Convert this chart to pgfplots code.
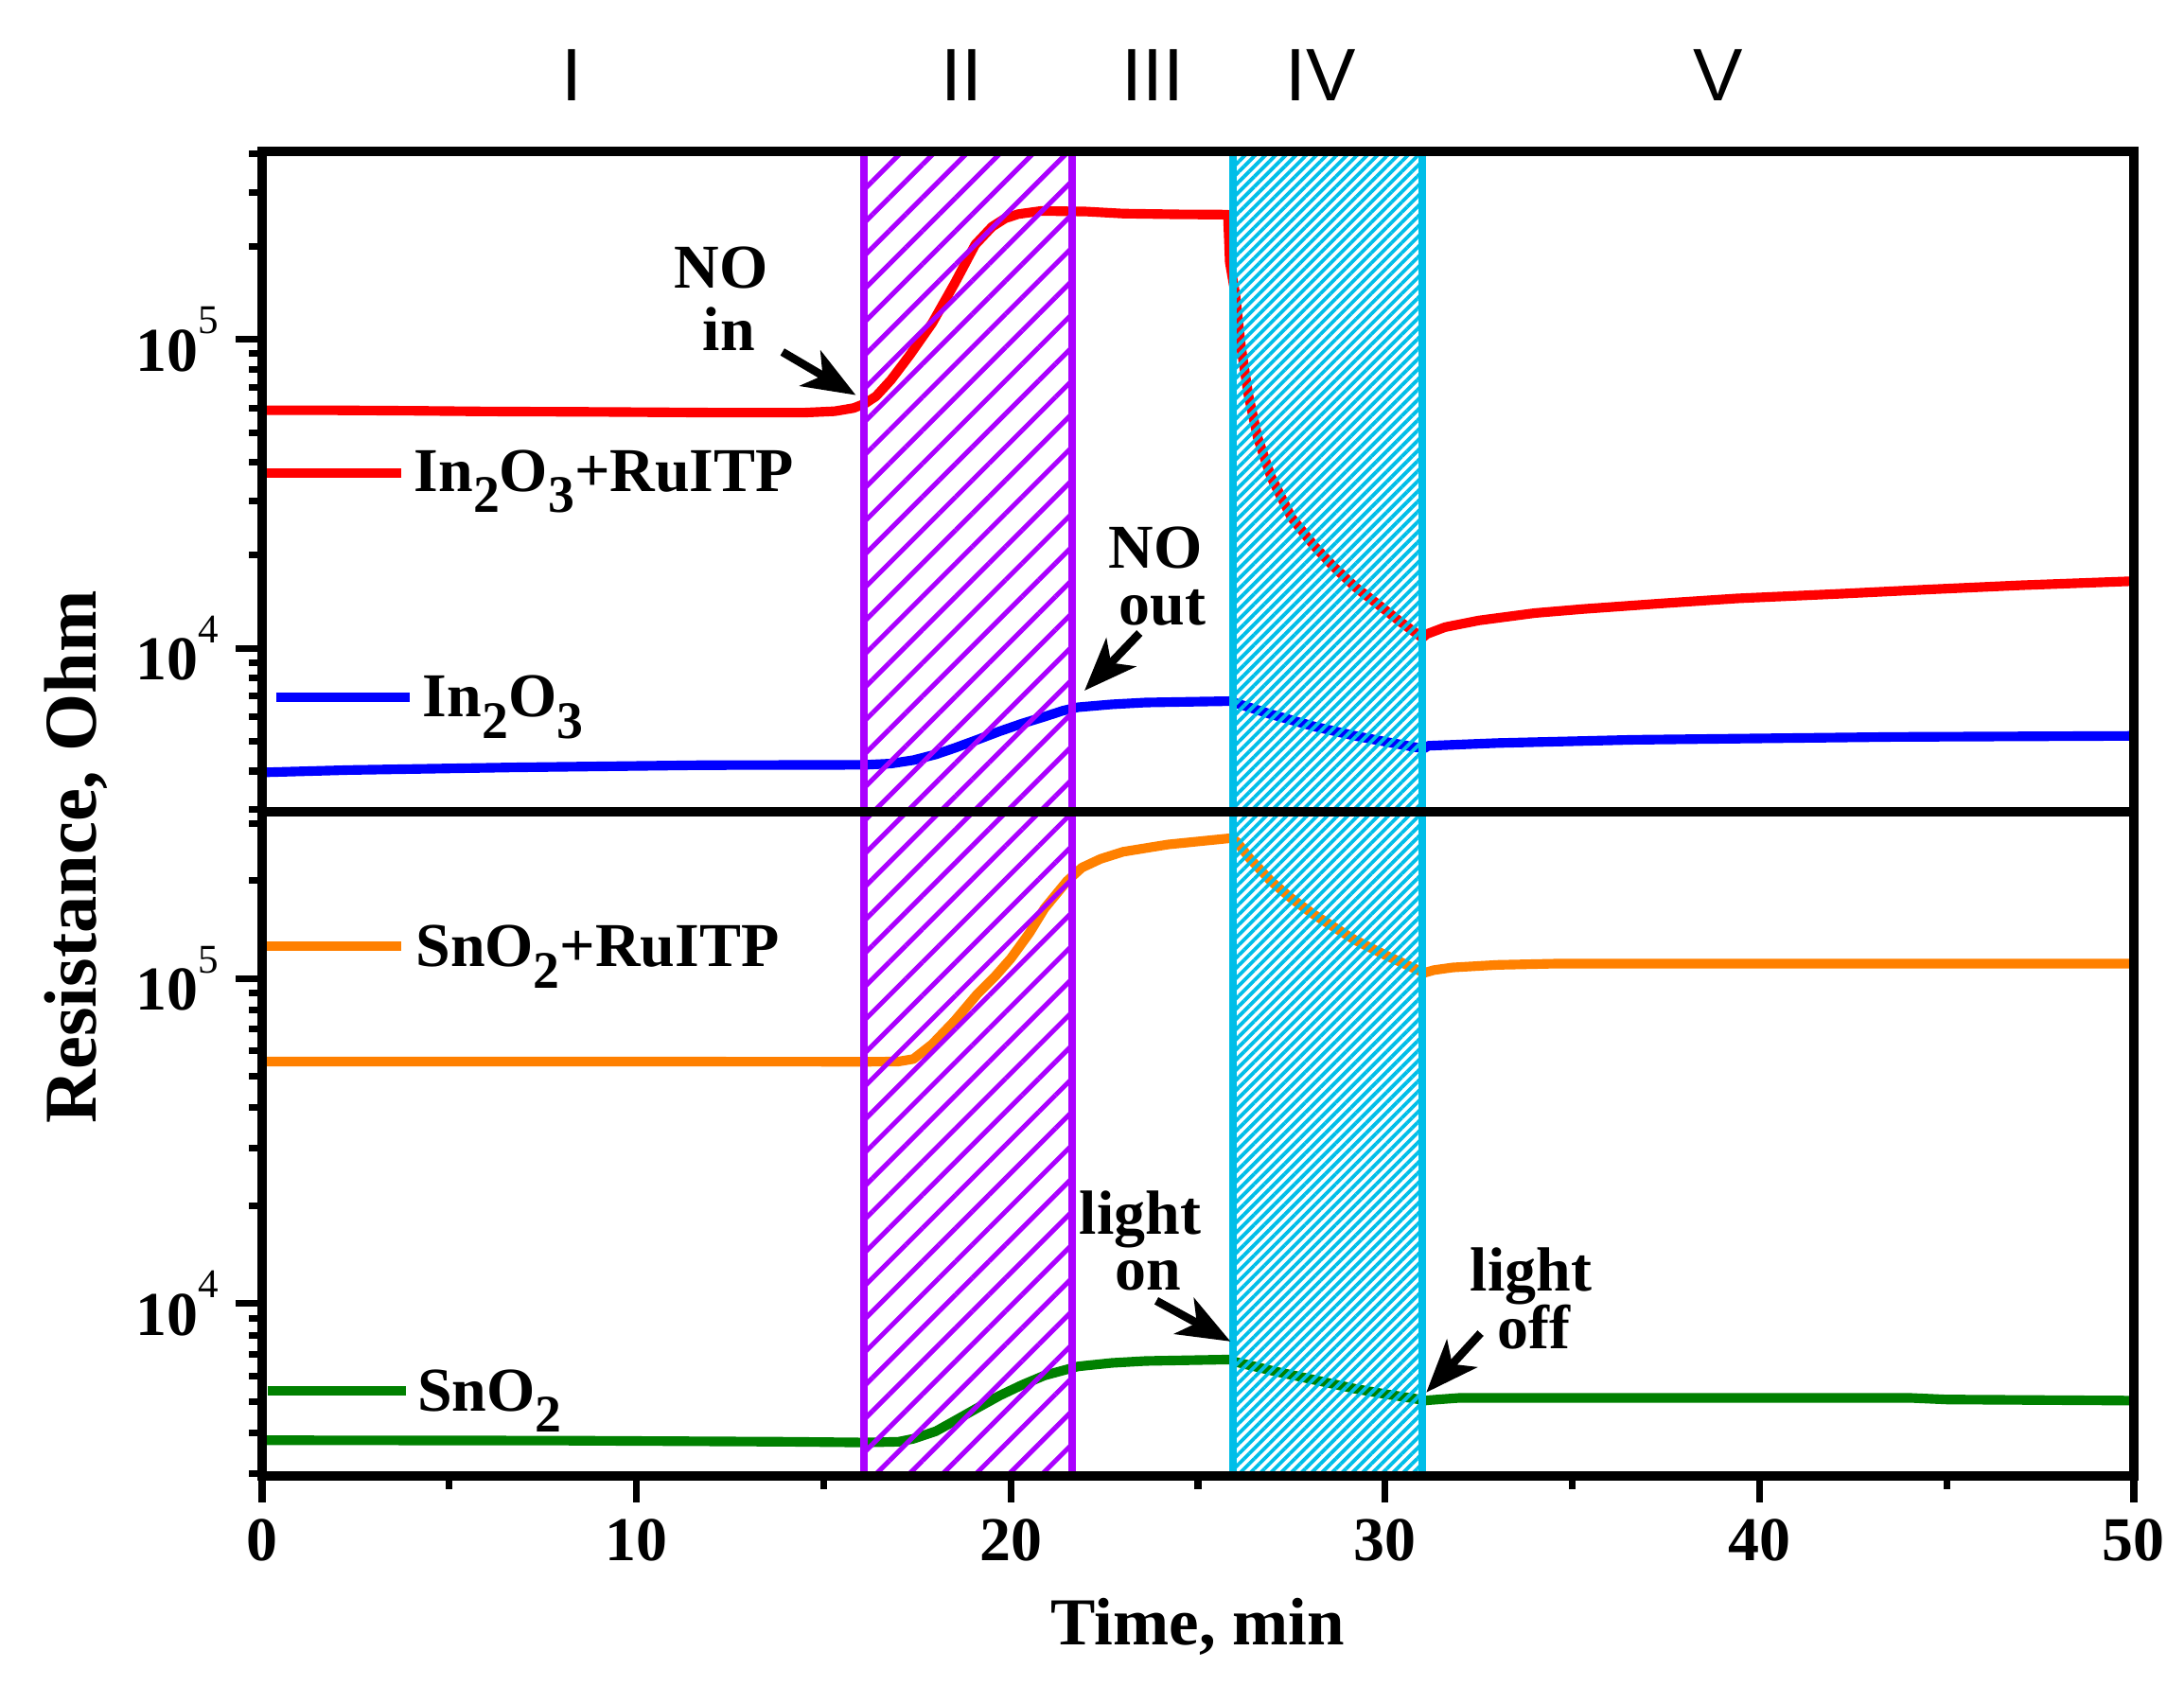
\documentclass[border=0pt]{standalone}
\usepackage{fontspec}
\setmainfont{Liberation Serif}
\newfontfamily\arial{Liberation Sans}
\usepackage{pgfplots}
\pgfplotsset{compat=1.18}
\usetikzlibrary{patterns.meta,arrows.meta}

\definecolor{vio}{RGB}{170,0,255}
\definecolor{cya}{RGB}{0,190,232}
\definecolor{org}{RGB}{255,128,0}
\definecolor{grn}{RGB}{0,128,0}

\newcommand{\sub}[1]{\raisebox{-4.5pt}{\fontsize{11}{11}\selectfont #1}}
\newcommand{\tenpow}[1]{10\raisebox{7.8pt}{\fontsize{8.5}{8.5}\selectfont\mdseries #1}}

\tikzset{
  mycurve/.style={line width=2pt, line join=round},
  mytxt/.style={font=\fontsize{13}{13}\selectfont\bfseries, inner sep=0pt},
  myarr/.style={line width=1.7pt, -{Stealth[length=11pt, width=8.5pt, inset=3pt]}},
  vbox/.style={draw=vio, line width=1.6pt,
    pattern={Lines[angle=45, distance=4.9pt, line width=1pt]}, pattern color=vio},
  cbox/.style={draw=cya, line width=1.6pt,
    pattern={Lines[angle=45, distance=1.5pt, line width=0.75pt]}, pattern color=cya},
}

\begin{document}
\begin{tikzpicture}
\useasboundingbox (-1.920cm,-1.532cm) rectangle (14.080cm,10.815cm);

% lower panel: SnO2
\begin{axis}[at={(0,0)}, anchor=south west,
  scale only axis, width=13.712cm, height=4.866cm,
  xmin=0, xmax=50, ymode=log, ymin=2950, ymax=3.25e5,
  axis line style={line width=1.9pt},
  tick style={line width=1.4pt, black},
  tick align=outside,
  major tick length=5.5pt, minor tick length=2.8pt,
  ytick={1e4,1e5}, yticklabels={\tenpow{4},\tenpow{5}},
  ytick pos=left,
  xtick={0,10,20,30,40,50}, minor x tick num=1, xtick pos=bottom,
  minor ytick={3000,4000,5000,6000,7000,8000,9000,20000,30000,40000,50000,60000,70000,80000,90000,200000,300000},
  ticklabel style={font=\fontsize{13}{13}\selectfont\bfseries},
  xticklabel={\pgfmathprintnumber[assume math mode=true]{\tick}},
  axis on top]
\addplot[mycurve, org] coordinates {
  (0,55500) (10,55500) (16.1,55400) (17.0,55500) (17.4,56500) (17.9,62700)
  (18.5,74000) (19.1,89300) (19.6,102000) (20.0,115000) (20.5,138000)
  (20.9,164000) (21.5,199000) (21.9,219000) (22.4,233000) (23.0,245000)
  (24.2,258000) (25.9,270000) (26.05,262000) (26.38,234000) (26.95,199000)
  (27.5,176000) (28.1,157000) (29.2,131000) (30.0,118000) (30.8,107000)
  (31.05,104000) (31.3,106000) (31.8,108000) (33,110000) (34.6,111000) (50,111000)
};
\addplot[mycurve, grn] coordinates {
  (0,3800) (8,3790) (14,3760) (16.1,3740) (17.0,3760) (17.4,3840) (18.0,4050)
  (18.5,4360) (19.1,4770) (19.7,5210) (20.3,5620) (20.9,6010) (21.8,6410)
  (22.7,6570) (23.6,6660) (25.85,6730) (26.0,6620) (27.0,6210) (28.1,5830)
  (29.2,5470) (30.0,5270) (30.8,5100) (31.05,5030) (31.2,5050) (32,5130)
  (44,5130) (45,5070) (50,5030)
};
% legend samples
\addplot[mycurve, org] coordinates {(0.11,125500) (3.72,125500)};
\addplot[mycurve, grn] coordinates {(0.15,5380) (3.84,5380)};
\node[mytxt, anchor=base west] at (axis cs:4.08,109000) {SnO\sub{2}+RuITP};
\node[mytxt, anchor=base west] at (axis cs:4.13,4680) {SnO\sub{2}};
% hatched regions
\draw[vbox] (axis cs:16.08,2950) rectangle (axis cs:21.65,3.25e5);
\draw[cbox] (axis cs:25.93,2950) rectangle (axis cs:31.0,3.25e5);
% annotations
\node[mytxt, anchor=base, text depth=0pt] at (axis cs:23.46,16300) {light};
\node[mytxt] at (axis cs:23.67,12200) {on};
\draw[myarr] (axis cs:23.89,10200) -- (axis cs:25.87,7650);
\node[mytxt, anchor=base, text depth=0pt] at (axis cs:33.9,10900) {light};
\node[mytxt] at (axis cs:33.97,8470) {off};
\draw[myarr] (axis cs:32.55,8110) -- (axis cs:31.1,5330);
\end{axis}

% upper panel: In2O3
\begin{axis}[at={(0,4.866cm)}, anchor=south west,
  scale only axis, width=13.712cm, height=4.839cm,
  xmin=0, xmax=50, ymode=log, ymin=2950, ymax=4.07e5,
  axis line style={line width=1.9pt},
  tick style={line width=1.4pt, black},
  tick align=outside,
  major tick length=5.5pt, minor tick length=2.8pt,
  ytick={1e4,1e5}, yticklabels={\tenpow{4},\tenpow{5}},
  ytick pos=left, xtick=\empty,
  minor ytick={3000,4000,5000,6000,7000,8000,9000,20000,30000,40000,50000,60000,70000,80000,90000,200000,300000,400000},
  ticklabel style={font=\fontsize{13}{13}\selectfont\bfseries},
  axis on top]
\addplot[mycurve, red] coordinates {
  (0,59000) (2,59000) (4,58800) (6,58500) (9,58300) (12,58000) (14.5,58000)
  (15.3,58600) (15.8,60000) (16.1,62000) (16.4,65500) (16.8,74000) (17.3,89000)
  (17.9,113000) (18.5,152000) (19.05,203000) (19.5,232000) (19.85,247000)
  (20.2,255000) (20.8,261000) (22.0,260000) (23.0,256000) (24.5,254500) (25.8,254000)
  (25.85,178000) (26.0,140000) (26.15,95000) (26.35,66000) (26.6,48000)
  (26.95,36000) (27.5,26500) (28.1,21500) (28.6,18500) (29.2,15800)
  (29.8,13900) (30.4,12200) (31.0,10800) (31.1,11100) (31.6,11700)
  (32.5,12300) (34,13000) (35.3,13400) (37.5,14000) (39.4,14500)
  (42.1,15000) (44.5,15500) (47,16000) (50,16500)
};
\addplot[mycurve, blue] coordinates {
  (0,3960) (2.3,4030) (6.7,4110) (11.8,4180) (16.1,4190) (16.8,4230) (17.4,4340)
  (18.0,4530) (18.5,4750) (19.1,5050) (19.7,5380) (20.3,5700) (20.9,6000)
  (21.4,6280) (21.8,6440) (22.7,6580) (23.6,6670) (25.85,6740) (26.0,6650)
  (26.95,6110) (28.1,5580) (29.2,5200) (30.0,4980) (30.8,4780) (31.05,4740)
  (31.15,4830) (33,4930) (36.6,5050) (43.6,5160) (50,5200)
};
% legend samples
\addplot[mycurve, red] coordinates {(0.08,36900) (3.72,36900)};
\addplot[mycurve, blue] coordinates {(0.375,6920) (3.94,6920)};
\node[mytxt, anchor=base west] at (axis cs:4.04,32300) {In\sub{2}O\sub{3}+RuITP};
\node[mytxt, anchor=base west] at (axis cs:4.27,6000) {In\sub{2}O\sub{3}};
% hatched regions
\draw[vbox] (axis cs:16.08,2950) rectangle (axis cs:21.65,4.07e5);
\draw[cbox] (axis cs:25.93,2950) rectangle (axis cs:31.0,4.07e5);
% annotations
\node[mytxt] at (axis cs:12.27,171000) {NO};
\node[mytxt] at (axis cs:12.47,108300) {in};
\draw[myarr] (axis cs:13.9,91200) -- (axis cs:15.86,66100);
\node[mytxt] at (axis cs:23.86,21200) {NO};
\node[mytxt] at (axis cs:24.06,13550) {out};
\draw[myarr] (axis cs:23.44,11200) -- (axis cs:21.97,7290);
\end{axis}

% axis titles
\node[rotate=90, anchor=base, font=\fontsize{15.5}{15.5}\selectfont\bfseries]
  at (-1.213cm,4.534cm) {Resistance, Ohm};
\node[anchor=base, font=\fontsize{14}{14}\selectfont\bfseries]
  at (6.856cm,-1.234cm) {Time, min};

% stage labels
\begin{scope}[every node/.style={anchor=base, font=\arial\fontsize{15.5}{15.5}\selectfont}]
\node at (2.271cm,10.074cm) {I};
\node at (5.128cm,10.074cm) {II};
\node at (6.527cm,10.074cm) {III};
\node at (7.753cm,10.074cm) {IV};
\node at (10.668cm,10.074cm) {V};
\end{scope}
\end{tikzpicture}
\end{document}
